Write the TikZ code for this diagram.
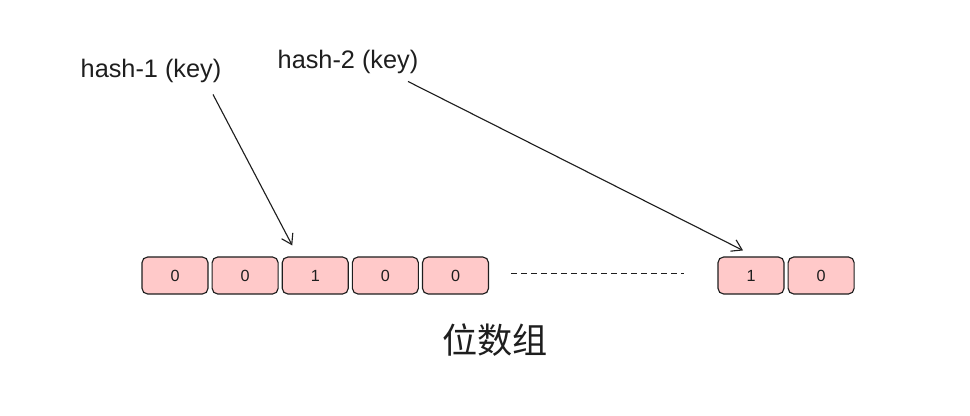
\documentclass[tikz,border=0pt]{standalone}
\usepackage{fontspec}
\setmainfont{Liberation Sans}
\newfontfamily\cjk{Noto Sans CJK SC}
\usetikzlibrary{arrows.meta, positioning}
\definecolor{bitfill}{HTML}{FFC9C9}
\definecolor{ink}{HTML}{1E1E1E}

\begin{document}
\begin{tikzpicture}[
  bit/.style={draw=ink, fill=bitfill, rounded corners=4pt, thick, minimum width=1.65cm,
              minimum height=0.925cm, inner sep=0pt, font=\fontsize{11.5}{13}\selectfont, text=ink},
  lbl/.style={font=\fontsize{18}{20}\selectfont, text=ink, inner sep=1pt},
  arr/.style={-{Straight Barb[length=7pt,width=9pt]}, thick, draw=ink},
  node distance=0.075cm
]
\useasboundingbox (0,0) rectangle (24.25,-10.4);

% bit array
\node[bit] (b1) at (4.375,-6.8875) {0};
\node[bit, right=of b1] (b2) {0};
\node[bit, right=of b2] (b3) {1};
\node[bit, right=of b3] (b4) {0};
\node[bit, right=of b4] (b5) {0};

\node[bit] (b6) at (18.775,-6.8875) {1};
\node[bit, right=of b6] (b7) {0};

\draw[ink, dash pattern=on 0.15cm off 0.1cm] ([xshift=0.55cm,yshift=0.06cm]b5.east) -- ([xshift=-0.825cm,yshift=0.06cm]b6.west);

% hash functions
\node[lbl] (h1) at (3.775,-1.775) {hash-1 (key)};
\node[lbl] (h2) at (8.7,-1.55) {hash-2 (key)};

\draw[arr] ([xshift=-0.25cm,yshift=-0.25cm]h1.south east) -- ([xshift=-0.575cm,yshift=0.275cm]b3.north);
\draw[arr] ([xshift=-0.3cm,yshift=-0.15cm]h2.south east) -- ([xshift=-0.2cm,yshift=0.15cm]b6.north);

\node[font=\cjk\fontsize{25}{28}\selectfont, text=ink] (title) at (12.375,-8.5) {位数组};
\end{tikzpicture}
\end{document}
